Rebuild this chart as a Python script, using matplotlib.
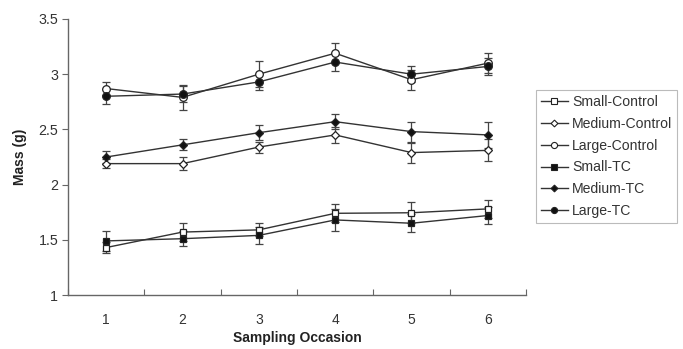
import matplotlib
matplotlib.use("Agg")
import matplotlib.pyplot as plt
from matplotlib.lines import Line2D
import numpy as np

plt.rcParams['font.family'] = ['Liberation Sans', 'DejaVu Sans']

occasions = [1, 2, 3, 4, 5, 6]
series_names = ["Small-Control", "Medium-Control", "Large-Control",
                "Small-TC", "Medium-TC", "Large-TC"]

small_control = [1.43, 1.57, 1.59, 1.74, 1.745, 1.78]
small_control_err = [0.05, 0.08, 0.06, 0.08, 0.095, 0.08]
medium_control = [2.19, 2.19, 2.34, 2.45, 2.29, 2.31]
medium_control_err = [0.04, 0.06, 0.05, 0.07, 0.09, 0.10]
large_control = [2.87, 2.79, 3.00, 3.19, 2.95, 3.10]
large_control_err = [0.06, 0.11, 0.12, 0.09, 0.09, 0.09]
small_tc = [1.49, 1.51, 1.54, 1.68, 1.65, 1.72]
small_tc_err = [0.09, 0.07, 0.08, 0.10, 0.08, 0.08]
medium_tc = [2.25, 2.36, 2.47, 2.57, 2.48, 2.45]
medium_tc_err = [0.05, 0.05, 0.07, 0.07, 0.09, 0.12]
large_tc = [2.80, 2.82, 2.93, 3.11, 3.00, 3.07]
large_tc_err = [0.07, 0.07, 0.07, 0.08, 0.07, 0.08]

values = [small_control, medium_control, large_control, small_tc, medium_tc, large_tc]
errors = [small_control_err, medium_control_err, large_control_err,
          small_tc_err, medium_tc_err, large_tc_err]
markers = ['s', 'D', 'o', 's', 'D', 'o']
sizes = [5, 4.3, 5.5, 5, 4.3, 5.5]
faces = ['white', 'white', 'white', '#111111', '#111111', '#111111']

fig = plt.figure(figsize=(6.83, 3.49), dpi=100)
ax = fig.add_axes([0.0996, 0.1547, 0.6705, 0.7909])

line_col = '#333333'
handles = []
for name, v, e, m, s, fc in zip(series_names, values, errors, markers, sizes, faces):
    ax.errorbar(occasions, v, yerr=e, color=line_col, lw=1.0, marker=m, ms=s,
                mfc=fc, mec='#222222', mew=0.9, capsize=2.8, elinewidth=0.9,
                capthick=0.9, ecolor='#444444')
    handles.append(Line2D([], [], color=line_col, lw=1.0, marker=m, ms=s * 0.8,
                          mfc=fc, mec='#222222', mew=0.8, label=name))

ax.set_xlim(0.5, 6.5)
ax.set_ylim(1, 3.5)
ax.set_xticks(np.arange(0.5, 7.0, 1.0))
ax.set_xticklabels([])
ax.set_xticks(occasions, minor=True)
ax.set_xticklabels([str(o) for o in occasions], minor=True)
ax.tick_params(axis='x', which='minor', length=0, pad=13, labelsize=10, colors='#333333')
ax.tick_params(axis='x', which='major', direction='in', length=4, color='#666666')
ax.set_yticks([1, 1.5, 2, 2.5, 3, 3.5])
ax.set_yticklabels(['1', '1.5', '2', '2.5', '3', '3.5'])
ax.tick_params(axis='y', direction='out', length=4, color='#666666', labelsize=10.3,
               labelcolor='#333333', pad=3)

for sp in ['top', 'right']:
    ax.spines[sp].set_visible(False)
for sp in ['left', 'bottom']:
    ax.spines[sp].set_color('#666666')
    ax.spines[sp].set_linewidth(1.0)

ax.set_xlabel('Sampling Occasion', fontsize=10, fontweight='bold', color='#222222', labelpad=3)
ax.set_ylabel('Mass (g)', fontsize=10, fontweight='bold', color='#222222', labelpad=8)

leg = fig.legend(handles=handles, loc='upper left', bbox_to_anchor=(536/683, 1 - 90/349),
                 frameon=True, fancybox=False, edgecolor='#aaaaaa', fontsize=10.1,
                 handlelength=1.9, labelspacing=0.56, borderpad=0.35, handletextpad=0.33,
                 borderaxespad=0)
leg.get_frame().set_linewidth(0.8)
for t in leg.get_texts():
    t.set_color('#333333')

fig.savefig('out.png', dpi=100)
